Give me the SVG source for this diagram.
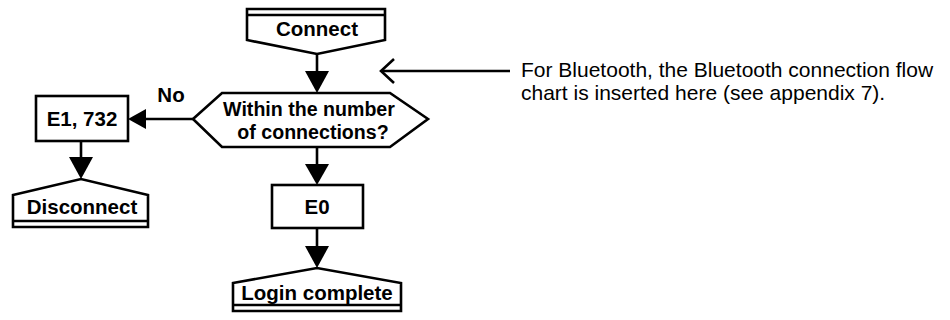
<svg xmlns="http://www.w3.org/2000/svg" width="950" height="320" viewBox="0 0 950 320">
<style>
.s{fill:#fff;stroke:#000;stroke-width:2.6;stroke-linejoin:miter}
.l{fill:none;stroke:#000;stroke-width:2.6}
.h{fill:#000;stroke:none}
.t{font-family:"Liberation Sans",Arial,sans-serif;font-weight:bold;font-size:20.5px;fill:#000;text-anchor:middle}
.q{font-size:19.6px}
.n{font-family:"Liberation Sans",Arial,sans-serif;font-size:21px;fill:#000}
</style>
<rect width="950" height="320" fill="#fff"/>
<g id="connectors">
<line class="l" x1="317" y1="54" x2="317" y2="72"/>
<polygon class="h" points="305,71 329,71 317,93"/>
<line class="l" x1="317" y1="147" x2="317" y2="165"/>
<polygon class="h" points="305,164 329,164 317,185"/>
<line class="l" x1="317" y1="228" x2="317" y2="247"/>
<polygon class="h" points="305,246 329,246 317,268"/>
<line class="l" x1="81" y1="141" x2="81" y2="158"/>
<polygon class="h" points="69,157 93,157 81,179"/>
<line class="l" x1="193" y1="119" x2="144" y2="119"/>
<polygon class="h" points="146,109 146,129 128,119"/>
<line class="l" x1="510" y1="71" x2="382" y2="71"/>
<polyline class="l" points="394,59 381,71 394,83" stroke-width="2"/>
</g>
<g id="connect">
<polygon class="s" points="247,9 385,9 385,40 317,54 247,40"/>
<line class="l" x1="247" y1="15" x2="385" y2="15"/>
<text class="t" x="317" y="36">Connect</text>
</g>
<g id="decision">
<polygon class="s" points="193,119 222,93 390,93 428,119 390,147 222,147"/>
<text class="t q" x="309" y="116">Within the number</text>
<text class="t q" x="313" y="139">of connections?</text>
</g>
<g id="no-label">
<text class="t" x="171" y="102">No</text>
</g>
<g id="e1">
<rect class="s" x="36" y="96" width="92" height="45"/>
<text class="t" x="82" y="126">E1, 732</text>
</g>
<g id="disconnect">
<polygon class="s" points="13,195 81,179 148,195 148,227 13,227"/>
<line class="l" x1="13" y1="221" x2="148" y2="221"/>
<text class="t" x="82" y="214">Disconnect</text>
</g>
<g id="e0">
<rect class="s" x="272" y="185" width="91" height="43"/>
<text class="t" x="317" y="214">E0</text>
</g>
<g id="login">
<polygon class="s" points="233,283 317,268 401,283 401,311 233,311"/>
<line class="l" x1="233" y1="305" x2="401" y2="305"/>
<text class="t" x="317" y="300">Login complete</text>
</g>
<g id="note">
<text class="n" x="521" y="77">For Bluetooth, the Bluetooth connection flow</text>
<text class="n" x="521" y="100">chart is inserted here (see appendix 7).</text>
</g>
</svg>
